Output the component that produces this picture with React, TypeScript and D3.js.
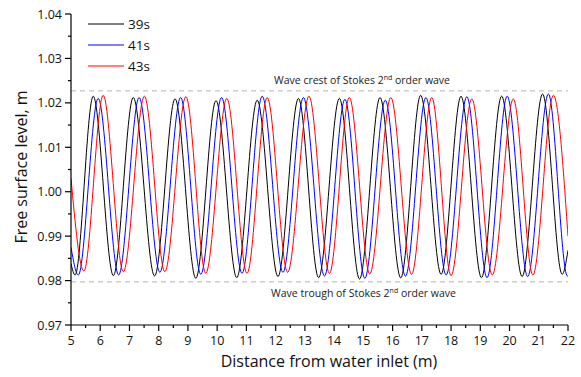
import React from 'react';
import * as d3 from 'd3';

const W = 581;
const H = 377;
const plot = { left: 71, right: 568, top: 14, bottom: 325 };

const xTicks = [5, 6, 7, 8, 9, 10, 11, 12, 13, 14, 15, 16, 17, 18, 19, 20, 21, 22];
const yTicks = [0.97, 0.98, 0.99, 1.0, 1.01, 1.02, 1.03, 1.04];
const yTickLabels = ['0.97', '0.98', '0.99', '1.00', '1.01', '1.02', '1.03', '1.04'];

const crestLevel = 1.0227;
const troughLevel = 0.9797;

const legendLabels = ['39s', '41s', '43s'];
const seriesColors = ['#000000', '#0000ff', '#ff0000'];

// 39s: positions of crests/troughs (m) and levels (m)
const s39X = [5.0, 5.14, 5.76, 6.45, 7.13, 7.86, 8.56, 9.27, 9.96, 10.67, 11.37, 12.08, 12.78, 13.47, 14.18, 14.87, 15.57, 16.28, 16.96, 17.66, 18.34, 19.04, 19.73, 20.43, 21.13, 21.8, 22.0];
const s39Y = [0.9838, 0.98125, 1.0215, 0.9811, 1.0212, 0.98103, 1.0209, 0.9805, 1.0205, 0.98065, 1.0206, 0.9809, 1.021, 0.98065, 1.021, 0.98035, 1.0212, 0.9806, 1.0217, 0.9814, 1.0215, 0.98065, 1.0215, 0.9809, 1.022, 0.9814, 0.9868];

// 41s
const s41X = [5.0, 5.25, 5.93, 6.63, 7.33, 8.04, 8.75, 9.44, 10.15, 10.85, 11.54, 12.25, 12.95, 13.67, 14.37, 15.05, 15.75, 16.44, 17.14, 17.83, 18.54, 19.23, 19.92, 20.62, 21.33, 21.98, 22.0];
const s41Y = [0.9875, 0.98125, 1.021, 0.98125, 1.0212, 0.98185, 1.0212, 0.9814, 1.0212, 0.98163, 1.0215, 0.98185, 1.0212, 0.98103, 1.0208, 0.9805, 1.0206, 0.981, 1.0212, 0.98125, 1.0214, 0.98065, 1.0215, 0.9809, 1.022, 0.98103, 0.9811];

// 43s
const s43X = [5.0, 5.44, 6.1, 6.79, 7.51, 8.21, 8.93, 9.61, 10.33, 11.02, 11.71, 12.41, 13.14, 13.84, 14.52, 15.22, 15.94, 16.65, 17.34, 18.0, 18.71, 19.41, 20.13, 20.8, 21.5, 22.0];
const s43Y = [1.003, 0.98215, 1.0217, 0.982, 1.0215, 0.982, 1.0214, 0.98163, 1.021, 0.98163, 1.0212, 0.98185, 1.0215, 0.98163, 1.0212, 0.9815, 1.0212, 0.9814, 1.0212, 0.9811, 1.0209, 0.98125, 1.0209, 0.98125, 1.0217, 0.99];

const seriesX = [s39X, s41X, s43X];
const seriesY = [s39Y, s41Y, s43Y];

const FONT = '"Open Sans", "Noto Sans", sans-serif';

export default function App() {
  const x = d3.scaleLinear().domain([5, 22]).range([plot.left, plot.right]);
  const y = d3.scaleLinear().domain([0.97, 1.04]).range([plot.bottom, plot.top]);

  const xMinor = xTicks.slice(0, -1).map((t, i) => (t + xTicks[i + 1]) / 2);
  const yMinor = yTicks.slice(0, -1).map((t, i) => (t + yTicks[i + 1]) / 2);

  const paths = seriesX.map((xs, si) => {
    const pts: [number, number][] = xs.map((v, i) => [v, seriesY[si][i]]);
    const gen = d3
      .line<[number, number]>()
      .x((d) => x(d[0]))
      .y((d) => y(d[1]))
      .curve(d3.curveMonotoneX);
    return gen(pts) || '';
  });

  return (
    <svg
      width={W}
      height={H}
      style={{ position: 'absolute', left: 0, top: 0, background: '#fff' }}
      fontFamily={FONT}
    >
      <defs>
        <clipPath id="plotClip">
          <rect x={plot.left} y={plot.top} width={plot.right - plot.left} height={plot.bottom - plot.top} />
        </clipPath>
      </defs>

      {/* reference dashed lines */}
      <line x1={plot.left} x2={plot.right} y1={y(crestLevel)} y2={y(crestLevel)} stroke="#b4b4b4" strokeWidth={1} strokeDasharray="5,4" />
      <line x1={plot.left} x2={plot.right} y1={y(troughLevel)} y2={y(troughLevel)} stroke="#b4b4b4" strokeWidth={1} strokeDasharray="5,4" />

      <text x={274} y={y(crestLevel) - 7} fontSize={10.5} fill="#222">
        Wave crest of Stokes 2<tspan dy={-4} fontSize={7}>nd</tspan>
        <tspan dy={4}> order wave</tspan>
      </text>
      <text x={271} y={y(troughLevel) + 15} fontSize={10.5} fill="#222">
        Wave trough of Stokes 2<tspan dy={-4} fontSize={7}>nd</tspan>
        <tspan dy={4}> order wave</tspan>
      </text>

      {/* series */}
      <g clipPath="url(#plotClip)">
        {paths.map((p, i) => (
          <path key={i} d={p} fill="none" stroke={seriesColors[i]} strokeWidth={1} />
        ))}
      </g>

      {/* axes */}
      <line x1={plot.left} x2={plot.left} y1={plot.top} y2={plot.bottom} stroke="#000" strokeWidth={1.2} />
      <line x1={plot.left} x2={plot.right} y1={plot.bottom} y2={plot.bottom} stroke="#000" strokeWidth={1.2} />

      {yTicks.map((t, i) => (
        <g key={'yt' + i}>
          <line x1={plot.left - 6} x2={plot.left} y1={y(t)} y2={y(t)} stroke="#000" strokeWidth={1.2} />
          <text x={plot.left - 9} y={y(t)} textAnchor="end" dominantBaseline="central" fontSize={12.5} fill="#111">
            {yTickLabels[i]}
          </text>
        </g>
      ))}
      {yMinor.map((t, i) => (
        <line key={'ym' + i} x1={plot.left - 3} x2={plot.left} y1={y(t)} y2={y(t)} stroke="#000" strokeWidth={1.2} />
      ))}

      {xTicks.map((t, i) => (
        <g key={'xt' + i}>
          <line x1={x(t)} x2={x(t)} y1={plot.bottom} y2={plot.bottom + 6} stroke="#000" strokeWidth={1.2} />
          <text x={x(t)} y={plot.bottom + 20} textAnchor="middle" fontSize={12.5} fill="#111">
            {String(t)}
          </text>
        </g>
      ))}
      {xMinor.map((t, i) => (
        <line key={'xm' + i} x1={x(t)} x2={x(t)} y1={plot.bottom} y2={plot.bottom + 3} stroke="#000" strokeWidth={1.2} />
      ))}

      {/* axis titles */}
      <text x={329} y={367} textAnchor="middle" fontSize={16} fill="#111">
        Distance from water inlet (m)
      </text>
      <text
        transform={`translate(27, ${167}) rotate(-90)`}
        textAnchor="middle"
        fontSize={16}
        fill="#111"
      >
        Free surface level, m
      </text>

      {/* legend */}
      {legendLabels.map((lab, i) => (
        <g key={'lg' + i}>
          <line x1={88} x2={124} y1={24 + i * 21} y2={24 + i * 21} stroke={seriesColors[i]} strokeWidth={1} />
          <text x={128} y={24 + i * 21} dominantBaseline="central" fontSize={13.5} fill="#111">
            {lab}
          </text>
        </g>
      ))}
    </svg>
  );
}
